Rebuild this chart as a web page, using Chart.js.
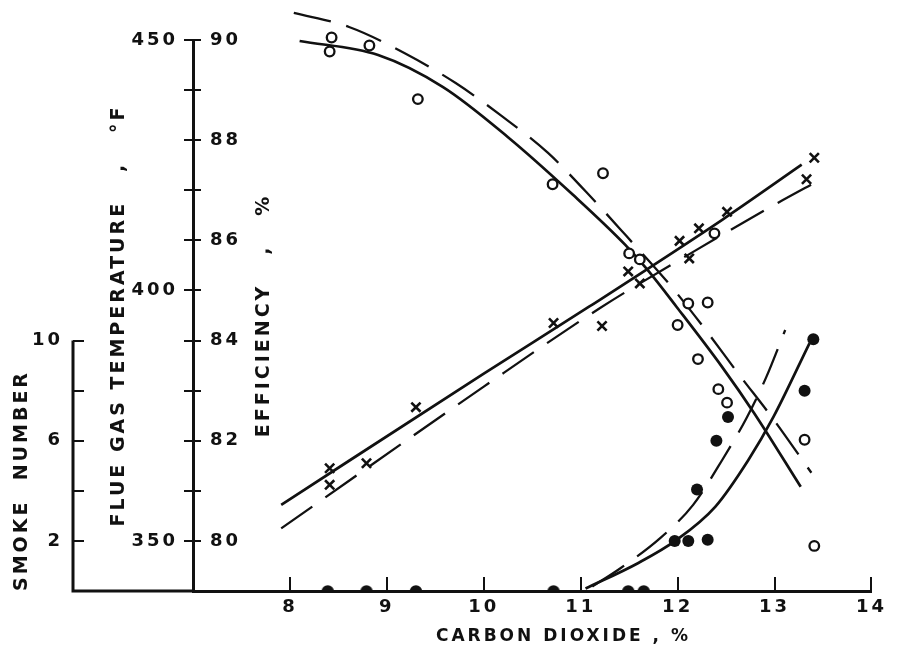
<!DOCTYPE html>
<html>
<head>
<meta charset="utf-8">
<script src="https://cdn.jsdelivr.net/npm/chart.js@4.4.1/dist/chart.umd.min.js"></script>
<style>
  body { margin: 0; background: #fff; }
  #caja { width: 907px; height: 664px; }
</style>
</head>
<body>
<div id="caja"><canvas id="grafico"></canvas></div>
<script>
const ink = '#111';

// open circles: flue gas temperature, F
const tempCO2 = [8.43, 8.41, 8.82, 9.32, 10.71, 11.23, 11.50, 11.61, 12.00, 12.11, 12.31, 12.21, 12.42, 12.51, 12.38, 13.31, 13.41];
const tempF = [450.5, 447.7, 448.9, 438.2, 421.2, 423.4, 407.4, 406.2, 393.1, 397.4, 397.6, 386.3, 380.3, 377.6, 411.4, 370.2, 349.0];

// crosses: efficiency, %
const effCO2 = [8.41, 8.41, 8.79, 9.30, 10.72, 11.22, 11.49, 11.61, 12.02, 12.12, 12.22, 12.51, 13.33, 13.41];
const effPct = [81.45, 81.12, 81.55, 82.67, 84.35, 84.29, 85.38, 85.14, 85.99, 85.64, 86.24, 86.57, 87.22, 87.65];

// filled circles: smoke number
const smokeCO2 = [8.39, 8.79, 9.30, 10.72, 11.49, 11.65, 11.97, 12.11, 12.31, 12.20, 12.40, 12.52, 13.31, 13.40];
const smokeNum = [0, 0, 0, 0, 0, 0, 2.0, 2.0, 2.05, 4.05, 6.0, 6.95, 8.0, 10.05];

// fitted curves
const tempSolidCO2 = [8.10, 8.91, 9.58, 10.25, 10.92, 11.46, 11.69, 11.99, 12.46, 12.79, 13.27];
const tempSolidF = [449.8, 447.0, 440.6, 430.6, 419.1, 409.1, 404.1, 396.7, 384.7, 375.5, 360.8];
const tempDashCO2 = [8.04, 8.61, 9.18, 9.71, 10.18, 10.66, 11.06, 11.47, 11.93, 12.29, 12.63, 12.98, 13.38];
const tempDashF = [455.4, 452.6, 447.4, 441.4, 434.9, 427.5, 419.6, 410.9, 400.9, 392.1, 383.3, 374.5, 363.6];

const effSolidCO2 = [7.91, 10.0, 11.09, 12.46, 13.28];
const effSolidPct = [80.72, 83.34, 84.68, 86.41, 87.51];
const effDashCO2 = [7.91, 10.0, 11.2, 12.16, 12.98, 13.48];
const effDashPct = [80.25, 83.08, 84.65, 85.77, 86.69, 87.22];

const smokeSolidCO2 = [11.05, 11.59, 11.99, 12.39, 12.73, 12.99, 13.36];
const smokeSolidNum = [0.1, 1.11, 2.04, 3.37, 5.23, 6.96, 9.89];
const smokeDashCO2 = [11.12, 11.41, 11.82, 12.16, 12.46, 12.71, 12.91, 13.11];
const smokeDashNum = [0.18, 0.91, 2.11, 3.44, 5.23, 6.9, 8.5, 10.42];

// tick labels
const co2Labels = [8, 9, 10, 11, 12, 13, 14];
const effLabels = [80, 82, 84, 86, 88, 90];
const tempLabels = [350, 400, 450];
const smokeLabels = [2, 6, 10];

const pares = (xs, ys) => xs.map((x, i) => ({ x: x, y: ys[i] }));

// half dot for the points sitting on the axis
const cupula = document.createElement('canvas');
cupula.width = 14;
cupula.height = 14;
const cctx = cupula.getContext('2d');
cctx.fillStyle = ink;
cctx.beginPath();
cctx.arc(7, 7.5, 6.2, Math.PI, 0);
cctx.closePath();
cctx.fill();

Chart.defaults.font.family = "'DejaVu Sans', sans-serif";
Chart.defaults.font.size = 18;
Chart.defaults.font.weight = 'bold';
Chart.defaults.color = ink;

const ejesExtra = {
  id: 'ejesExtra',
  beforeUpdate(chart) { chart.ctx.letterSpacing = '3px'; },
  beforeDraw(chart) { chart.ctx.letterSpacing = '3px'; },
  beforeDatasetsDraw(chart) {
    const { ctx, chartArea, scales } = chart;
    const s = scales.smoke;
    ctx.save();
    ctx.strokeStyle = ink;
    ctx.lineWidth = 3;
    ctx.beginPath();
    ctx.moveTo(s.right, s.getPixelForValue(10));
    ctx.lineTo(s.right, chartArea.bottom);
    ctx.lineTo(chartArea.left, chartArea.bottom);
    ctx.stroke();
    ctx.restore();
  }
};

const curva = (datos, eje, dash) => ({
  data: datos,
  yAxisID: eje,
  showLine: true,
  pointRadius: 0,
  borderColor: ink,
  borderWidth: dash ? 2.3 : 2.7,
  borderDash: dash ? [38, 16] : [],
  cubicInterpolationMode: 'monotone',
  clip: false
});

new Chart(document.getElementById('grafico'), {
  type: 'scatter',
  data: {
    datasets: [
      {
        data: pares(tempCO2, tempF), yAxisID: 'temp',
        pointStyle: 'circle', pointRadius: 4.8, borderWidth: 2.3,
        backgroundColor: '#fff', borderColor: ink, clip: false
      },
      {
        data: pares(effCO2, effPct), yAxisID: 'eff',
        pointStyle: 'crossRot', pointRadius: 6.5, borderWidth: 2.6,
        borderColor: ink, clip: false
      },
      {
        data: pares(smokeCO2, smokeNum), yAxisID: 'smoke',
        pointStyle: c => (c.raw && c.raw.y === 0) ? cupula : 'circle',
        pointRadius: 6, borderWidth: 0,
        backgroundColor: ink, clip: false
      },
      curva(pares(tempSolidCO2, tempSolidF), 'temp', false),
      curva(pares(tempDashCO2, tempDashF), 'temp', true),
      curva(pares(effSolidCO2, effSolidPct), 'eff', false),
      curva(pares(effDashCO2, effDashPct), 'eff', true),
      curva(pares(smokeSolidCO2, smokeSolidNum), 'smoke', false),
      curva(pares(smokeDashCO2, smokeDashNum), 'smoke', true)
    ]
  },
  options: {
    responsive: true,
    maintainAspectRatio: false,
    animation: false,
    layout: { padding: { left: 0, top: 40, right: 17, bottom: 0 } },
    plugins: { legend: { display: false }, tooltip: { enabled: false } },
    scales: {
      x: {
        type: 'linear', position: 'bottom', min: 7, max: 14,
        ticks: {
          stepSize: 1, autoSkip: false, maxRotation: 0, padding: 20,
          callback: v => co2Labels.includes(v) ? String(v) : null
        },
        grid: { drawOnChartArea: false, tickLength: -14, lineWidth: 2, color: ink },
        border: { width: 3, color: ink },
        title: {
          display: true, text: '       CARBON DIOXIDE , %',
          font: { size: 17 }, padding: { top: 0, bottom: 17 }
        },
        afterFit: s => { s.height = 73; }
      },
      smoke: {
        type: 'linear', position: 'left', weight: 3, min: 0, max: 22,
        ticks: {
          stepSize: 2, autoSkip: false, padding: 21,
          callback: v => (v === 0 || v > 10) ? null : (smokeLabels.includes(v) ? String(v) : '')
        },
        grid: { drawOnChartArea: false, tickLength: -11, lineWidth: 2, color: ink },
        border: { display: false },
        title: {
          display: true, text: 'SMOKE  NUMBER', align: 'start',
          font: { size: 19 }, padding: { top: 11, bottom: 0 }
        },
        afterFit: s => { s.width = 73; }
      },
      temp: {
        type: 'linear', position: 'left', weight: 2, min: 340, max: 450,
        ticks: {
          stepSize: 10, autoSkip: false, padding: 23,
          callback: v => v === 340 ? null : (tempLabels.includes(v) ? String(v) : '')
        },
        grid: { drawOnChartArea: false, tickLength: -8, lineWidth: 2, color: ink },
        border: { display: false },
        title: {
          display: true, text: 'FLUE GAS TEMPERATURE   ,   °F',
          font: { size: 19 }, padding: { top: 35, bottom: 0 }
        },
        afterFit: s => { s.width = 120; }
      },
      eff: {
        type: 'linear', position: 'left', weight: 1, min: 79, max: 90,
        ticks: {
          stepSize: 1, autoSkip: false, mirror: true, padding: 17,
          callback: v => v === 79 ? null : (effLabels.includes(v) ? String(v) : '')
        },
        grid: { drawOnChartArea: false, tickLength: 9, lineWidth: 2, color: ink },
        border: { width: 3, color: ink },
        title: {
          display: true, text: 'EFFICIENCY   ,   %',
          font: { size: 19 }, padding: { top: 60, bottom: 0 }
        },
        afterFit: s => { s.width = 0; }
      }
    }
  },
  plugins: [ejesExtra]
});
</script>
</body>
</html>
